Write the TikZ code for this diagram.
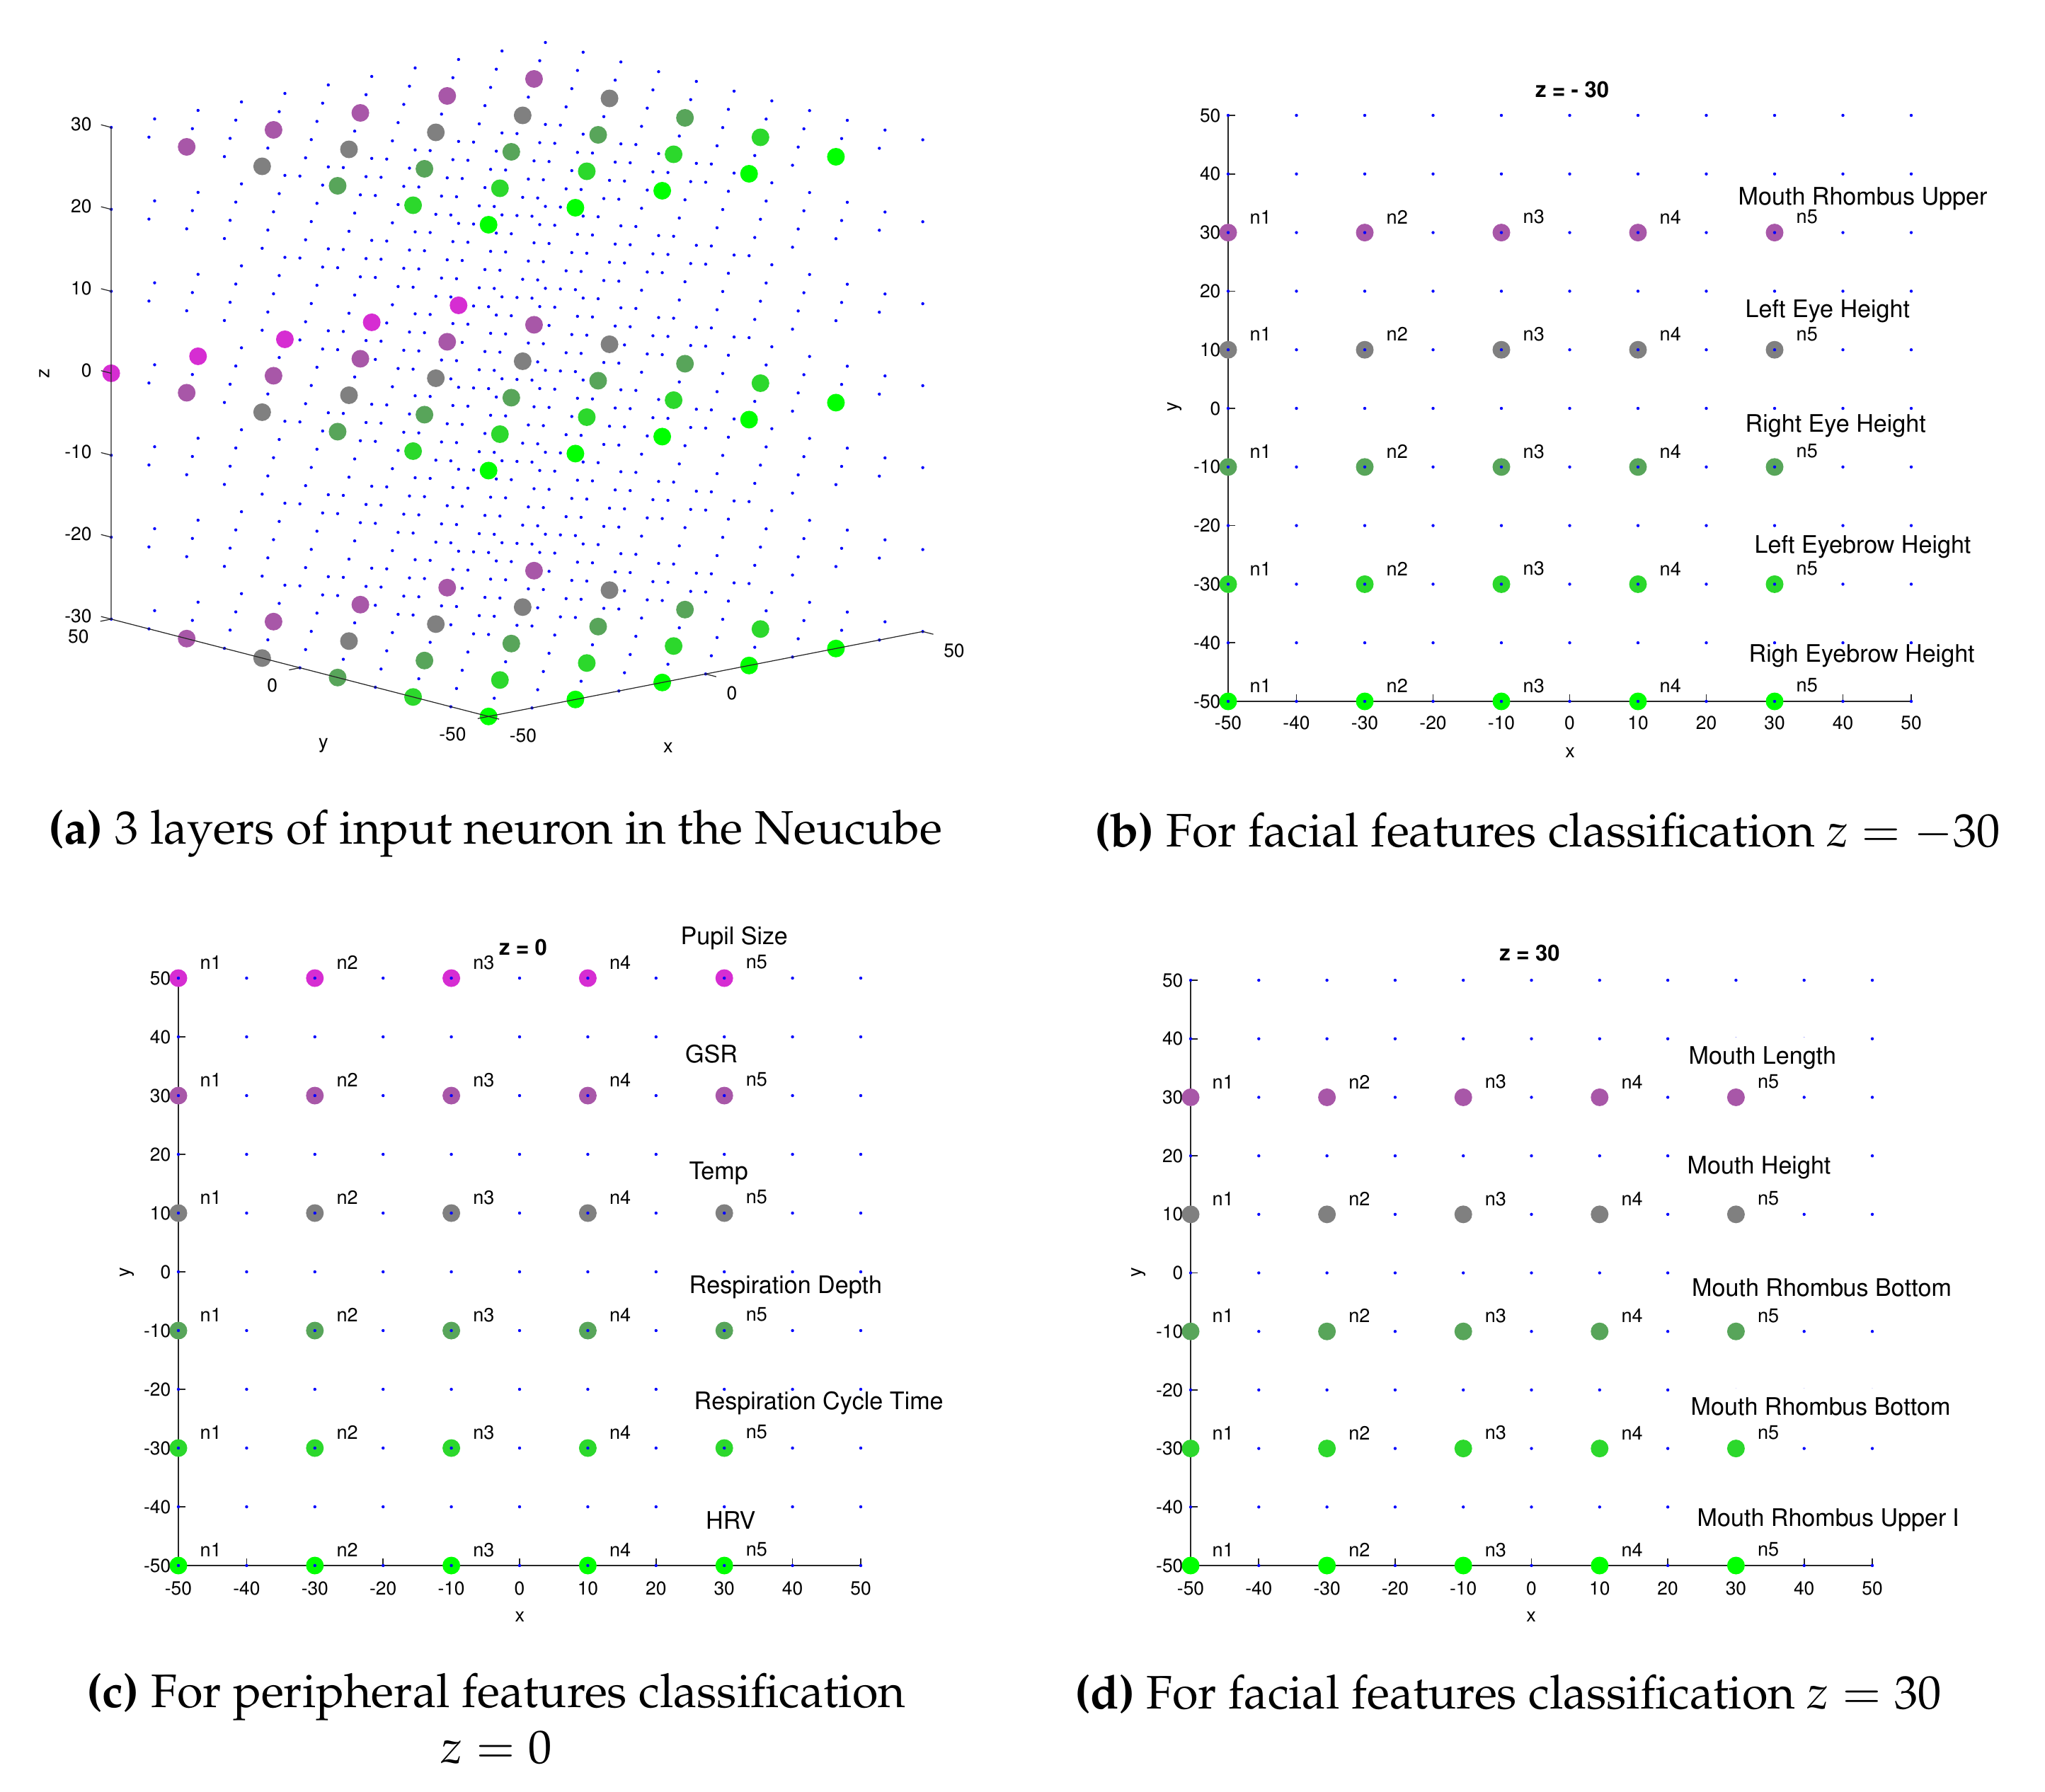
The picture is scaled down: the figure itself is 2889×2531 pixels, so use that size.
\documentclass[tikz,border=0pt]{standalone}
\usepackage[T1]{fontenc}
\usepackage{mathpazo}
\usepackage[scaled=1]{helvet}
\usetikzlibrary{positioning}

\definecolor{nMagenta}{RGB}{214,45,210}
\definecolor{nPurple}{RGB}{168,87,168}
\definecolor{nGray}{RGB}{128,128,128}
\definecolor{nDkGreen}{RGB}{88,165,90}
\definecolor{nMidGreen}{RGB}{44,216,44}
\definecolor{nLtGreen}{RGB}{0,255,0}
\definecolor{axisgray}{RGB}{38,38,38}

\tikzset{
  griddot/.style={circle,fill=blue,inner sep=0pt,minimum size=0.44mm},
  neuron/.style={circle,fill=#1,inner sep=0pt,minimum size=2.5mm},
  ticklbl/.style={font=\fontsize{7.5}{8}\selectfont\sffamily,inner sep=0pt},
  nlbl/.style={font=\fontsize{7.7}{8}\selectfont\sffamily,inner sep=0pt,anchor=west},
  featlbl/.style={font=\fontsize{9.7}{11}\selectfont\sffamily,inner sep=0pt,anchor=west},
  plottitle/.style={font=\fontsize{8.8}{10}\selectfont\sffamily\bfseries,inner sep=0pt},
  axlbl/.style={font=\fontsize{7.7}{8}\selectfont\sffamily,inner sep=0pt},
  subcap/.style={font=\fontsize{18.9}{22}\selectfont,inner sep=0pt},
  axisline/.style={axisgray,line width=0.5pt},
  axisthin/.style={axisgray,line width=0.35pt},
}

\begin{document}
\begin{tikzpicture}[x=0.1mm,y=-0.1mm,line cap=butt]
\useasboundingbox (0,0) rectangle (2889,2531);

% (a) the cube
\begin{scope}[shift={(730.35,536.15)},x={(0.6134mm,0.12mm)},y={(-0.5331mm,0.1375mm)},z={(0mm,1.158mm)}]
  \foreach \i in {-50,-40,...,50}
    \foreach \j in {-50,-40,...,50}
      \foreach \k in {-30,-20,...,30}
        \fill[blue] (\i,\j,\k) circle (0.22mm);
  \foreach \k in {-30,30}
    \foreach \j/\c in {30/nPurple,10/nGray,-10/nDkGreen,-30/nMidGreen,-50/nLtGreen}
      \foreach \i in {-50,-30,...,30}
        \node[neuron=\c] (a\i\j\k) at (\i,\j,\k) {};
  \foreach \j/\c in {50/nMagenta,30/nPurple,10/nGray,-10/nDkGreen,-30/nMidGreen,-50/nLtGreen}
    \foreach \i in {-50,-30,...,30}
      \node[neuron=\c] (a\i\j0) at (\i,\j,0) {};
  \coordinate (ctop) at (-50,50,30);
  \coordinate (cleft) at (-50,50,-30);
  \coordinate (cfront) at (-50,-50,-30);
  \coordinate (cright) at (50,-50,-30);
  \draw[axisthin] (ctop) -- (cleft) -- (cfront) -- (cright);
  \foreach \k in {-30,-20,...,30}{
    \draw[axisthin] (-50,50,\k) -- ++(0,2.7,0);
    \node[ticklbl,anchor=east] (az\k) at ([xshift=-2.7mm,yshift=0.45mm]-50,50,\k) {\k};
  }
  \foreach \j in {-50,0,50}{
    \draw[axisthin] (-50,\j,-30) -- ++(-2.5,0,0);
    \node[ticklbl,anchor=east] (ay\j) at ([xshift=-3.1mm,yshift=-2.5mm]-50,\j,-30) {\j};
  }
  \foreach \i in {-50,0,50}{
    \draw[axisthin] (\i,-50,-30) -- ++(0,-2.8,0);
    \node[ticklbl,anchor=west] (ax\i) at ([xshift=2.9mm,yshift=-2.7mm]\i,-50,-30) {\i};
  }
\end{scope}
\node[axlbl,rotate=90] (azlbl) at (62.5,527.5) {z};
\node[axlbl] (aylbl) at (457,1053.6) {y};
\node[axlbl] (axlbl) at (944,1056) {x};

% (b) z = -30
\begin{scope}[shift={(2217.5,577)},x=0.965mm,y=0.828mm]
  \draw[axisline] (-50,50) -- (-50,-50) -- (50,-50);
  \foreach \v in {-50,-40,...,50}{
    \draw[axisline] (-50,\v) -- ++(1mm,0mm);
    \draw[axisline] (\v,-50) -- ++(0mm,1mm);
    \node[ticklbl,anchor=east] (by\v) at ([xshift=-1mm]-50,\v) {\v};
    \node[ticklbl] (bx\v) at ([yshift=-3mm]\v,-50) {\v};
  }
  \foreach \y/\c in {30/nPurple,10/nGray,-10/nDkGreen,-30/nMidGreen,-50/nLtGreen}
    \foreach \x [count=\n] in {-50,-30,...,30}{
      \node[neuron=\c] (b\n\y) at (\x,\y) {};
      \node[nlbl] (bl\n\y) at ([xshift=3mm,yshift=2.2mm]b\n\y.center) {n\n};
    }
  \foreach \i in {-50,-40,...,50}
    \foreach \j in {-50,-40,...,50}
      \node[griddot] (bd\i\j) at (\i,\j) {};
\end{scope}
\node[plottitle] (btitle) at (2221,127) {z = - 30};
\node[axlbl] (bxlbl) at (2218,1063) {x};
\node[axlbl,rotate=90] (bylbl) at (1659,575) {y};
\node[featlbl] (bf1) at (2455,281) {Mouth Rhombus Upper};
\node[featlbl] (bf2) at (2465,440) {Left Eye Height};
\node[featlbl] (bf3) at (2465,602) {Right Eye Height};
\node[featlbl] (bf4) at (2478,773) {Left Eyebrow Height};
\node[featlbl] (bf5) at (2470,927) {Righ Eyebrow Height};

% (c) z = 0
\begin{scope}[shift={(734,1797)},x=0.964mm,y=0.830mm]
  \draw[axisline] (-50,50) -- (-50,-50) -- (50,-50);
  \foreach \v in {-50,-40,...,50}{
    \draw[axisline] (-50,\v) -- ++(1mm,0mm);
    \draw[axisline] (\v,-50) -- ++(0mm,1mm);
    \node[ticklbl,anchor=east] (cy\v) at ([xshift=-1mm]-50,\v) {\v};
    \node[ticklbl] (cx\v) at ([yshift=-3.2mm]\v,-50) {\v};
  }
  \foreach \y/\c in {50/nMagenta,30/nPurple,10/nGray,-10/nDkGreen,-30/nMidGreen,-50/nLtGreen}
    \foreach \x [count=\n] in {-50,-30,...,30}{
      \node[neuron=\c] (c\n\y) at (\x,\y) {};
      \node[nlbl] (cl\n\y) at ([xshift=3mm,yshift=2.2mm]c\n\y.center) {n\n};
    }
  \foreach \i in {-50,-40,...,50}
    \foreach \j in {-50,-40,...,50}
      \node[griddot] (cd\i\j) at (\i,\j) {};
\end{scope}
\node[plottitle] (ctitle) at (739,1339) {z = 0};
\node[axlbl] (cxlbl) at (734.5,2284) {x};
\node[axlbl,rotate=90] (cylbl) at (179,1797.6) {y};
\node[featlbl] (cf1) at (961,1325.5) {Pupil Size};
\node[featlbl] (cf2) at (967.5,1489.6) {GSR};
\node[featlbl] (cf3) at (973,1658) {Temp};
\node[featlbl] (cf4) at (973,1819) {Respiration Depth};
\node[featlbl] (cf5) at (980,1983) {Respiration Cycle Time};
\node[featlbl] (cf6) at (996.5,2148.5) {HRV};

% (d) z = 30
\begin{scope}[shift={(2163.5,1798.5)},x=0.963mm,y=0.827mm]
  \draw[axisline] (-50,50) -- (-50,-50) -- (50,-50);
  \foreach \v in {-50,-40,...,50}{
    \draw[axisline] (-50,\v) -- ++(1mm,0mm);
    \draw[axisline] (\v,-50) -- ++(0mm,1mm);
    \node[ticklbl,anchor=east] (dy\v) at ([xshift=-1mm]-50,\v) {\v};
    \node[ticklbl] (dx\v) at ([yshift=-3.2mm]\v,-50) {\v};
  }
  \foreach \i in {-50,-40,...,50}
    \foreach \j in {-50,-40,...,50}
      \node[griddot] (dd\i\j) at (\i,\j) {};
  \foreach \y/\c in {30/nPurple,10/nGray,-10/nDkGreen,-30/nMidGreen,-50/nLtGreen}
    \foreach \x [count=\n] in {-50,-30,...,30}
      \node[neuron=\c] (d\n\y) at (\x,\y) {};
\end{scope}
\begin{scope}
  \clip (1500,1250) rectangle (2764,2300);
  \node[featlbl,fill=white,inner sep=1.4mm] (df1) at (2371,1495.6) {Mouth Length};
  \node[featlbl,fill=white,inner sep=1.4mm] (df2) at (2369,1650) {Mouth Height};
  \node[featlbl,fill=white,inner sep=1.4mm] (df3) at (2375.5,1820) {Mouth Rhombus Bottom};
  \node[featlbl,fill=white,inner sep=1.4mm] (df4) at (2374,1988) {Mouth Rhombus Bottom};
  \node[featlbl,fill=white,inner sep=1.4mm] (df5) at (2383,2148) {Mouth Rhombus Upper L};
\end{scope}
\foreach \y in {30,10,-10,-30,-50}
  \foreach \n in {1,...,5}
    \node[nlbl] (dl\n\y) at ([xshift=3mm,yshift=2.2mm]d\n\y.center) {n\n};
\node[plottitle] (dtitle) at (2161,1347) {z = 30};
\node[axlbl] (dxlbl) at (2163,2284) {x};
\node[axlbl,rotate=90] (dylbl) at (1608,1797.6) {y};

% captions
\node[subcap] (capa) at (700,1178) {\textbf{(a)} 3 layers of input neuron in the Neucube};
\node[subcap] (capb) at (2186,1176) {\textbf{(b)} For facial features classification $z=-30$};
\node[subcap] (capc) at (701,2398) {\textbf{(c)} For peripheral features classification};
\node[subcap] (capc2) at (701,2469) {$z=0$};
\node[subcap] (capd) at (2130.5,2394) {\textbf{(d)} For facial features classification $z=30$};
\end{tikzpicture}
\end{document}
